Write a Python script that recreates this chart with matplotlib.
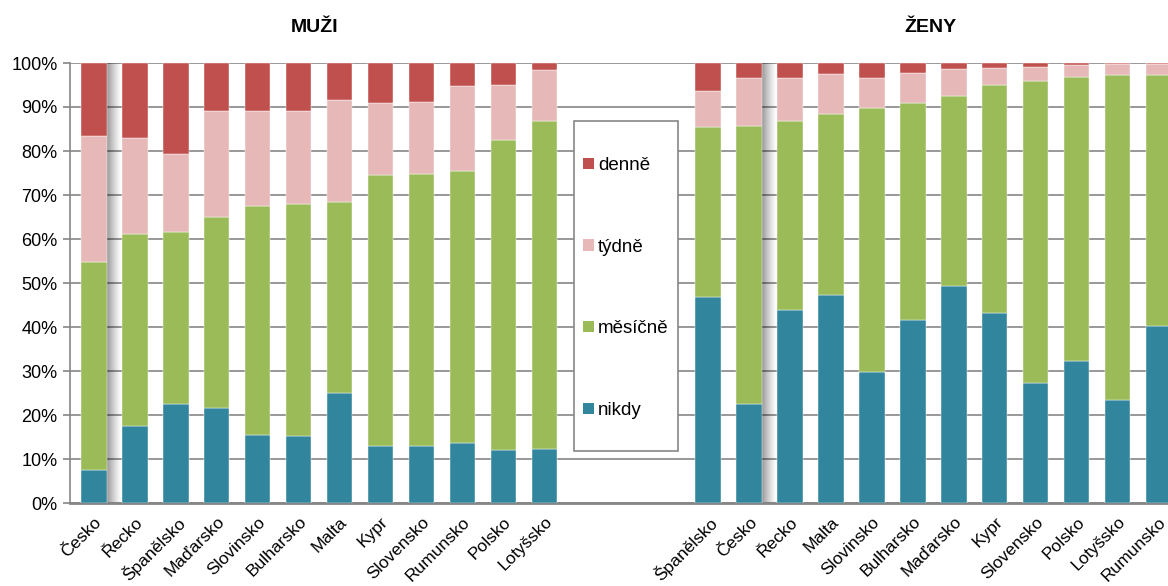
import numpy as np
import matplotlib
matplotlib.use("Agg")
import matplotlib.pyplot as plt
from matplotlib.patches import Patch, Rectangle

plt.rcParams['font.family'] = ['Liberation Sans', 'DejaVu Sans']

# shares in % (nikdy, měsíčně, týdně, denně)
men_countries = ["Česko", "Řecko", "Španělsko", "Maďarsko", "Slovinsko", "Bulharsko",
                 "Malta", "Kypr", "Slovensko", "Rumunsko", "Polsko", "Lotyšsko"]
men_nikdy = [7.4, 17.6, 22.4, 21.7, 15.5, 15.3, 24.9, 13.0, 13.0, 13.6, 12.1, 12.3]
men_mesicne = [47.3, 43.6, 39.2, 43.3, 52.0, 52.6, 43.4, 61.6, 61.7, 61.8, 70.5, 74.6]
men_tydne = [28.6, 21.8, 17.7, 24.0, 21.5, 21.3, 23.2, 16.4, 16.5, 19.3, 12.4, 11.4]
men_denne = [16.7, 17.0, 20.7, 11.0, 11.0, 10.8, 8.5, 9.0, 8.8, 5.3, 5.0, 1.7]

women_countries = ["Španělsko", "Česko", "Řecko", "Malta", "Slovinsko", "Bulharsko",
                   "Maďarsko", "Kypr", "Slovensko", "Polsko", "Lotyšsko", "Rumunsko"]
women_nikdy = [46.8, 22.6, 43.8, 47.2, 29.8, 41.5, 49.3, 43.1, 27.2, 32.2, 23.5, 40.3]
women_mesicne = [38.6, 63.0, 43.1, 41.1, 60.0, 49.3, 43.3, 51.8, 68.6, 64.6, 73.8, 57.0]
women_tydne = [8.2, 10.9, 9.6, 9.3, 6.9, 7.0, 6.0, 3.9, 3.3, 2.7, 2.4, 2.4]
women_denne = [6.4, 3.5, 3.5, 2.4, 3.3, 2.2, 1.4, 1.2, 0.9, 0.5, 0.3, 0.3]

series_names = ["nikdy", "měsíčně", "týdně", "denně"]
colors = ["#31859C", "#9BBB59", "#E6B9B8", "#C0504D"]

gap = 3
x_men = np.arange(len(men_countries))
x_women = np.arange(len(women_countries)) + len(men_countries) + gap
x_all = np.concatenate([x_men, x_women])
labels = men_countries + women_countries
data = [men_nikdy + women_nikdy, men_mesicne + women_mesicne,
        men_tydne + women_tydne, men_denne + women_denne]

fig = plt.figure(figsize=(11.68, 5.86), dpi=100)
ax = fig.add_axes([70 / 1168, 1 - 503 / 586, 1 - 70 / 1168, 440 / 586])

width = 0.62
bottom = np.zeros(len(x_all))
for vals, name, c in zip(data, series_names, colors):
    vals = np.array(vals)
    ax.bar(x_all, vals, width, bottom=bottom, color=c, label=name,
           edgecolor='white', linewidth=0.3, zorder=3)
    bottom += vals

# shadow next to the Česko bars
grad = np.zeros((1, 64, 4))
grad[..., 3] = np.linspace(0.5, 0.0, 64) ** 1.3
for i, lab in enumerate(labels):
    if lab == "Česko":
        x0 = x_all[i] + width / 2
        ax.imshow(grad, extent=[x0, x0 + 0.36, 0, 100], aspect='auto',
                  interpolation='bilinear', zorder=2.5)

ax.set_xlim(-0.585, 26.23)
ax.set_ylim(0, 100)
ax.set_yticks(np.arange(0, 101, 10))
ax.set_yticklabels([f"{v}%" for v in range(0, 101, 10)], fontsize=13)
ax.set_xticks(x_all)
ax.set_xticklabels(labels, rotation=45, ha='right', rotation_mode='anchor', fontsize=12.5)
ax.tick_params(axis='x', length=0, pad=8)
ax.tick_params(axis='y', length=5, width=1.2, color='#868686', pad=4)
ax.grid(axis='y', color='#868686', linewidth=1.2, zorder=0)
ax.set_axisbelow(True)
for s in ['top', 'right']:
    ax.spines[s].set_visible(False)
ax.spines['left'].set_color('#868686')
ax.spines['left'].set_linewidth(1.2)
ax.spines['bottom'].set_color('#868686')
ax.spines['bottom'].set_linewidth(2)

# legend box in the gap between the groups
box_l, box_r, box_t, box_b = 574, 678, 121, 451
fig.patches.append(Rectangle((box_l / 1168, 1 - box_b / 586),
                             (box_r - box_l) / 1168, (box_b - box_t) / 586,
                             transform=fig.transFigure, facecolor='white',
                             edgecolor='#868686', linewidth=1.2, zorder=2))
handles = [Patch(facecolor=c, edgecolor='none') for c in colors][::-1]
leg = fig.legend(handles, series_names[::-1], loc='center',
                 bbox_to_anchor=((box_l + box_r) / 2 / 1168, 1 - (box_t + box_b + 4) / 2 / 586),
                 fontsize=13.5, frameon=False,
                 handlelength=0.55, handleheight=0.55, handletextpad=0.25,
                 labelspacing=3.45, borderpad=0)
leg.set_zorder(5)

fig.text(315 / 1168, 1 - 27 / 586, "MUŽI", ha='center', va='center',
         fontsize=14, fontweight='bold')
fig.text(930 / 1168, 1 - 27 / 586, "ŽENY", ha='center', va='center',
         fontsize=14, fontweight='bold')

fig.savefig("out.png", dpi=100, facecolor='white')
